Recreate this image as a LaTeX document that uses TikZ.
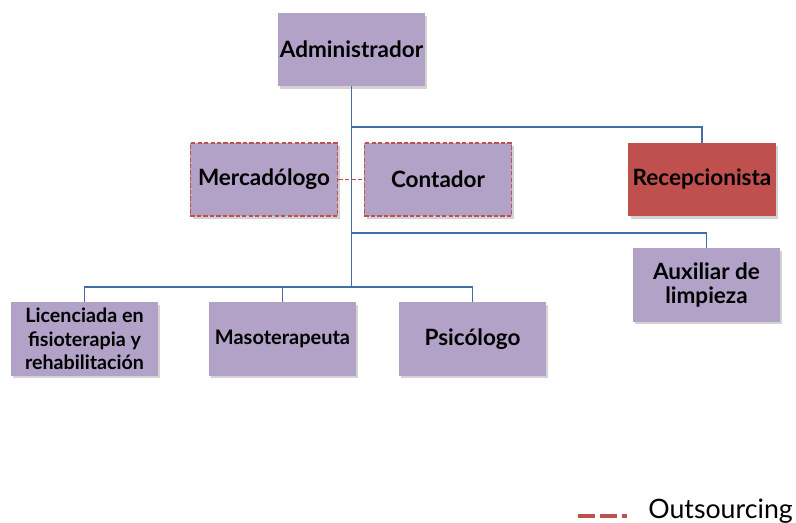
\documentclass[tikz,border=0pt]{standalone}
\usepackage{fontspec}
\setmainfont{Lato}
\usetikzlibrary{shadows,positioning}

\definecolor{lila}{RGB}{178,162,199}
\definecolor{rojo}{RGB}{192,80,77}
\definecolor{azul}{RGB}{68,108,165}

\tikzset{
	puesto/.style={fill=lila, minimum width=3.675cm, minimum height=1.825cm, inner sep=1pt, align=center,
		font=\bfseries\fontsize{16}{17.7}\selectfont,
		drop shadow={shadow xshift=1.5pt, shadow yshift=-2pt, opacity=0.35}},
	externo/.style={puesto, draw=rojo, dash pattern=on 3pt off 1.6pt, line width=1.2pt},
	linea/.style={azul, line width=1.4pt},
}

\begin{document}
\begin{tikzpicture}[x=0.025cm, y=-0.025cm]
		
		\useasboundingbox (0,0) rectangle (796,523);
		
		\node[puesto] (admin) at (351.5,49.5) {Administrador};
		\node[externo] (merc) at (264,179.5) {Mercadólogo};
		\node[externo] (cont) at (438,179.5) {Contador};
		\node[puesto, fill=rojo] (recep) at (702,179.5) {Recepcionista};
		\node[puesto] (aux) at (706.5,285) {Auxiliar de\\limpieza};
		
		\node[puesto, font=\bfseries\fontsize{14}{16.7}\selectfont] (lic) at (84.5,339) {Licenciada en\\fisioterapia y\\rehabilitación};
		\node[puesto, font=\bfseries\fontsize{14.2}{16}\selectfont] (maso) at (282.5,339) {Masoterapeuta};
		\node[puesto] (psico) at (472.5,339) {Psicólogo};
		
		%tronco
		\coordinate (bajo) at (admin.south |- 0,287);
		\draw[linea] (admin.south) -- (bajo);
		\draw[linea] (admin.south |- 0,127) -| (recep.north);
		\draw[linea] (admin.south |- 0,233) -| (aux.north);
		
		\draw[linea] (lic.north) |- (bajo) -| (psico.north);
		\draw[linea] (maso.north) -- (maso.north |- bajo);
		
		\draw[rojo, dash pattern=on 3pt off 1.6pt, line width=1.2pt] (merc.east) -- (cont.west);
		
		%leyenda
		\coordinate (leyA) at (578,516);
		\coordinate (leyB) at (627,516);
		\draw[rojo, line width=3.5pt, dash pattern=on 12pt off 3.5pt] (leyA) -- (leyB);
		\node[anchor=base west, font=\fontsize{19}{21}\selectfont, inner sep=0pt] (leyenda) at (648,519) {Outsourcing};
		
	\end{tikzpicture}
\end{document}
